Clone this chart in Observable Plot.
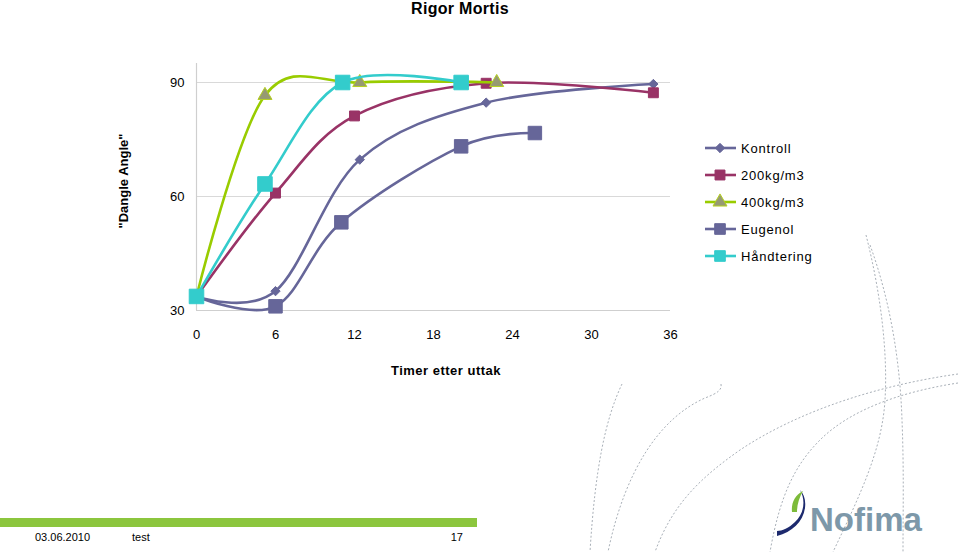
<!DOCTYPE html>
<html><head><meta charset="utf-8">
<script src="https://cdn.jsdelivr.net/npm/d3@7"></script>
<script src="https://cdn.jsdelivr.net/npm/@observablehq/plot@0.6"></script>
<style>
body{margin:0;background:#fff;}
#wrap{position:relative;width:960px;height:552px;overflow:hidden;font-family:"Liberation Sans",Arial,sans-serif;background:#fff;}
#deco,#plot,#over{position:absolute;left:0;top:0;}
</style></head><body>
<div id="wrap"><svg id="deco" width="960" height="552"></svg><div id="plot"></div><svg id="over" width="960" height="552"></svg></div>
<script>
// ---- data ----
const seriesNames = ["Kontroll", "200kg/m3", "400kg/m3", "Eugenol", "Håndtering"];
const kontrollHours = [0, 6, 12.4, 22, 34.7];
const kontrollValues = [33.7, 35.1, 69.7, 84.7, 89.6];
const kg200Hours = [0, 6, 12, 22, 34.7];
const kg200Values = [33.7, 60.9, 81.2, 89.8, 87.3];
const kg400Hours = [0, 5.2, 12.4, 22.8];
const kg400Values = [33.7, 86.6, 90, 90];
const eugenolHours = [0, 6, 11, 20.1, 25.7];
const eugenolValues = [33.7, 31.1, 53.2, 73.2, 76.7];
const handteringHours = [0, 5.2, 11.1, 20.1];
const handteringValues = [33.7, 63.3, 90, 90];
const xTicks = [0, 6, 12, 18, 24, 30, 36];
const yTicks = [30, 60, 90];
const titleText = "Rigor Mortis";
const xLabel = "Timer etter uttak";
const yLabel = "\"Dangle Angle\"";
const footerDate = "03.06.2010";
const footerText = "test";
const footerPage = "17";

// ---- styles ----
const styles = [
  {stroke: "#666699", fill: "#666699", symStroke: "#666699", symbol: "diamond2", r: 4.2},
  {stroke: "#993366", fill: "#993366", symStroke: "#993366", symbol: "square", r: 5.6},
  {stroke: "#99cc00", fill: "#969a72", symStroke: "#b5d020", symbol: "triangle", r: 5.2},
  {stroke: "#666699", fill: "#666699", symStroke: "#666699", symbol: "square", r: 7.6},
  {stroke: "#33cccc", fill: "#33cccc", symStroke: "#33cccc", symbol: "square", r: 8.2}
];
const hoursList = [kontrollHours, kg200Hours, kg400Hours, eugenolHours, handteringHours];
const valuesList = [kontrollValues, kg200Values, kg400Values, eugenolValues, handteringValues];
const rows = [];
seriesNames.forEach((name, i) => hoursList[i].forEach((h, j) => rows.push({series: name, hour: h, value: valuesList[i][j]})));

const curve = d3.curveCatmullRom.alpha(0);
const marks = [
  Plot.ruleY([60, 90], {stroke: "#d9d9d9", strokeWidth: 1}),
  Plot.ruleY([30], {stroke: "#cfcfcf", strokeWidth: 1.2}),
  Plot.ruleX([0], {y1: 30, y2: 95, stroke: "#cfcfcf", strokeWidth: 1.2}),
  Plot.axisX({ticks: xTicks, tickSize: 0, tickPadding: 19, label: null, tickFormat: d => d}),
  Plot.axisY({ticks: yTicks, tickSize: 0, tickPadding: 12, label: null, tickFormat: d => d})
];
seriesNames.forEach((name, i) => {
  const d = rows.filter(r => r.series === name);
  const s = styles[i];
  marks.push(Plot.line(d, {x: "hour", y: "value", stroke: s.stroke, strokeWidth: 2.6, curve}));
  marks.push(Plot.dot(d.slice(1).concat(i === 4 ? [d[0]] : []), {x: "hour", y: "value", symbol: s.symbol, r: s.r, fill: s.fill, stroke: s.symStroke, strokeWidth: 1}));
});

const chart = Plot.plot({
  width: 960, height: 400,
  marginLeft: 196, marginRight: 290, marginTop: 63, marginBottom: 90,
  x: {domain: [0, 36]},
  y: {domain: [30, 95]},
  style: {fontFamily: "'Liberation Sans', Arial, sans-serif", fontSize: "13px", color: "#000", background: "transparent", overflow: "visible"},
  marks
});
document.getElementById("plot").appendChild(chart);

// ---- overlay: titles, legend, footer ----
const over = d3.select("#over");
const font = "'Liberation Sans', Arial, sans-serif";
over.append("text").attr("x", 460).attr("y", 14).attr("text-anchor", "middle")
  .attr("font-family", font).attr("font-size", 16).attr("font-weight", "bold").attr("letter-spacing", 0.3).text(titleText);
over.append("text").attr("x", 446).attr("y", 375).attr("text-anchor", "middle")
  .attr("font-family", font).attr("font-size", 13).attr("font-weight", "bold").attr("letter-spacing", 0.5).text(xLabel);
over.append("text").attr("transform", "translate(128,181) rotate(-90)").attr("text-anchor", "middle")
  .attr("font-family", font).attr("font-size", 13).attr("font-weight", "bold").text(yLabel);

const symMap = {diamond2: d3.symbolDiamond2, square: d3.symbolSquare, triangle: d3.symbolTriangle};
seriesNames.forEach((name, i) => {
  const y = 148 + i * 27;
  const s = styles[i];
  const g = over.append("g");
  g.append("line").attr("x1", 705).attr("x2", 736).attr("y1", y).attr("y2", y).attr("stroke", s.stroke).attr("stroke-width", 2.6);
  const rr = Math.min(s.r, 6);
  g.append("path").attr("transform", `translate(720,${y})`)
    .attr("d", d3.symbol(symMap[s.symbol], rr * rr * Math.PI)())
    .attr("fill", s.fill).attr("stroke", s.symStroke);
  g.append("text").attr("x", 741).attr("y", y + 4.5).attr("font-family", font).attr("font-size", 13)
    .attr("letter-spacing", 0.8).text(name);
});

over.append("rect").attr("x", 0).attr("y", 518).attr("width", 477).attr("height", 9).attr("fill", "#8cc63e");
over.append("text").attr("x", 35).attr("y", 541).attr("font-family", font).attr("font-size", 11).text(footerDate);
over.append("text").attr("x", 132).attr("y", 541).attr("font-family", font).attr("font-size", 11).text(footerText);
over.append("text").attr("x", 463).attr("y", 541).attr("text-anchor", "end").attr("font-family", font).attr("font-size", 11).text(footerPage);

// logo
over.append("path").attr("d", "M777,536 C792,532 803,522 805,508 C806,500 804,494 800,490 C806,500 804,514 795,522 C789,528 782,531 777,531 Z").attr("fill", "#1d2a6e");
over.append("path").attr("d", "M792,512 C791,503 795,495 803,491 C799,498 797,505 797,512 Z").attr("fill", "#7dbb3a");
over.append("text").attr("x", 810).attr("y", 531).attr("font-family", font).attr("font-size", 33).attr("font-weight", "bold")
  .attr("fill", "#7d98a9").text("Nofima");

// decorative dashed curves
const deco = d3.select("#deco");
const paths = [
  "M866,235 C880,290 888,350 885,400 C882,450 860,495 833,552",
  "M870,245 C890,300 900,360 902,420 C904,470 903,510 903,552",
  "M958,374 C880,385 800,410 740,450 C700,478 672,505 655,552",
  "M958,383 C900,392 850,410 820,440 C795,465 780,495 770,552",
  "M622,384 C605,420 595,470 590,552",
  "M721,384 C722,390 718,393 705,398 C660,418 625,470 608,552"
];
paths.forEach(p => deco.append("path").attr("d", p).attr("fill", "none").attr("stroke", "#a9b0b8").attr("stroke-width", 1).attr("stroke-dasharray", "2,2"));
</script>
</body></html>
